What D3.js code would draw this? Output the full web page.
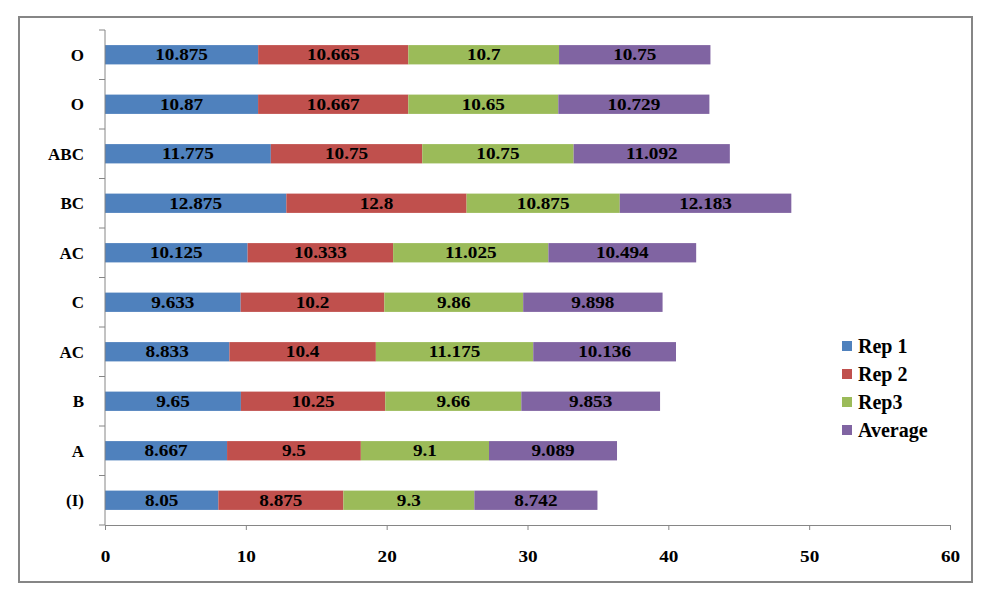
<!DOCTYPE html>
<html>
<head>
<meta charset="utf-8">
<script src="https://cdn.jsdelivr.net/npm/d3@7"></script>
<style>
  body { margin: 0; background: #fff; }
  svg text { font-family: "Liberation Serif", "Times New Roman", serif; font-weight: bold; }
</style>
</head>
<body>
<div id="chart"></div>
<script>
// data, listed bottom to top
var categories = ["(I)", "A", "B", "AC", "C", "AC", "BC", "ABC", "O", "O"];
var rep1    = [8.05, 8.667, 9.65, 8.833, 9.633, 10.125, 12.875, 11.775, 10.87, 10.875];
var rep2    = [8.875, 9.5, 10.25, 10.4, 10.2, 10.333, 12.8, 10.75, 10.667, 10.665];
var rep3    = [9.3, 9.1, 9.66, 11.175, 9.86, 11.025, 10.875, 10.75, 10.65, 10.7];
var average = [8.742, 9.089, 9.853, 10.136, 9.898, 10.494, 12.183, 11.092, 10.729, 10.75];
var seriesNames = ["Rep 1", "Rep 2", "Rep3", "Average"];
var colors = ["#4F81BD", "#C0504D", "#9BBB59", "#8064A2"];
var xTicks = [0, 10, 20, 30, 40, 50, 60];

var W = 988, H = 596;
var plot = {left: 105, right: 950, top: 30, bottom: 525};
var serif = "'Liberation Serif', 'Times New Roman', serif";

var svg = d3.select("#chart").append("svg")
    .attr("width", W)
    .attr("height", H);

// outer border
svg.append("rect")
    .attr("x", 19).attr("y", 17)
    .attr("width", 953).attr("height", 565)
    .attr("fill", "#fff")
    .attr("stroke", "#868686")
    .attr("stroke-width", 2);

var x = d3.scaleLinear().domain([0, 60]).range([plot.left, plot.right]);

// use index keys since labels repeat
var idx = d3.range(categories.length);
var y = d3.scaleBand()
    .domain(idx.slice().reverse())
    .range([plot.top, plot.bottom])
    .paddingInner(0.61)
    .paddingOuter(0.305);

var allSeries = [rep1, rep2, rep3, average];
var rows = idx.map(function(i) {
  var r = {i: i};
  seriesNames.forEach(function(s, k) { r[s] = allSeries[k][i]; });
  return r;
});
var stacked = d3.stack().keys(seriesNames)(rows);

// bars
var layer = svg.selectAll("g.layer")
  .data(stacked)
  .enter().append("g")
    .attr("class", "layer")
    .attr("fill", function(d, k) { return colors[k]; });

layer.selectAll("rect")
  .data(function(d) { return d; })
  .enter().append("rect")
    .attr("x", function(d) { return x(d[0]); })
    .attr("y", function(d) { return y(d.data.i); })
    .attr("width", function(d) { return x(d[1]) - x(d[0]); })
    .attr("height", y.bandwidth());

// value labels (the source is a bit stretched sideways)
layer.selectAll("text")
  .data(function(d) { return d.map(function(p) { p.key = d.key; return p; }); })
  .enter().append("text")
    .attr("transform", function(d) {
      var cx = (x(d[0]) + x(d[1])) / 2, cy = y(d.data.i) + y.bandwidth() / 2;
      return "translate(" + cx + "," + cy + ") scale(1.2,1)";
    })
    .attr("dy", "0.34em")
    .attr("text-anchor", "middle")
    .attr("fill", "#000")
    .style("font-family", serif)
    .style("font-weight", "bold")
    .style("font-size", "16px")
    .text(function(d) { return d.data[d.key]; });

// y axis (ticks at band edges)
svg.append("line")
    .attr("x1", plot.left).attr("x2", plot.left)
    .attr("y1", plot.top).attr("y2", plot.bottom)
    .attr("stroke", "#868686");
d3.range(categories.length + 1).forEach(function(k) {
  var yy = plot.top + k * (plot.bottom - plot.top) / categories.length;
  svg.append("line")
    .attr("x1", plot.left - 6).attr("x2", plot.left)
    .attr("y1", yy).attr("y2", yy)
    .attr("stroke", "#868686");
});
svg.selectAll("text.cat")
  .data(idx)
  .enter().append("text")
    .attr("class", "cat")
    .attr("x", 84)
    .attr("y", function(i) { return y(i) + y.bandwidth() / 2; })
    .attr("dy", "0.36em")
    .attr("text-anchor", "end")
    .style("font-family", serif)
    .style("font-weight", "bold")
    .style("font-size", "17px")
    .text(function(i) { return categories[i]; });

// x axis
var xAxis = svg.append("g")
    .attr("transform", "translate(0," + plot.bottom + ")")
    .call(d3.axisBottom(x).tickValues(xTicks).tickSize(5).tickPadding(21).tickSizeOuter(0));
xAxis.select(".domain").attr("stroke", "#868686");
xAxis.selectAll(".tick line").attr("stroke", "#868686");
xAxis.selectAll(".tick text")
    .attr("transform", "scale(1.2,1)")
    .attr("fill", "#000")
    .style("font-family", serif)
    .style("font-weight", "bold")
    .style("font-size", "16px");

// legend
var legend = svg.append("g").attr("transform", "translate(842,346)");
seriesNames.forEach(function(s, k) {
  var g = legend.append("g").attr("transform", "translate(0," + (k * 28) + ")");
  g.append("rect")
    .attr("x", 0).attr("y", -5)
    .attr("width", 10).attr("height", 10)
    .attr("fill", colors[k]);
  g.append("text")
    .attr("x", 16).attr("y", 0)
    .attr("dy", "0.36em")
    .style("font-family", serif)
    .style("font-weight", "bold")
    .style("font-size", "20px")
    .text(s);
});
</script>
</body>
</html>
